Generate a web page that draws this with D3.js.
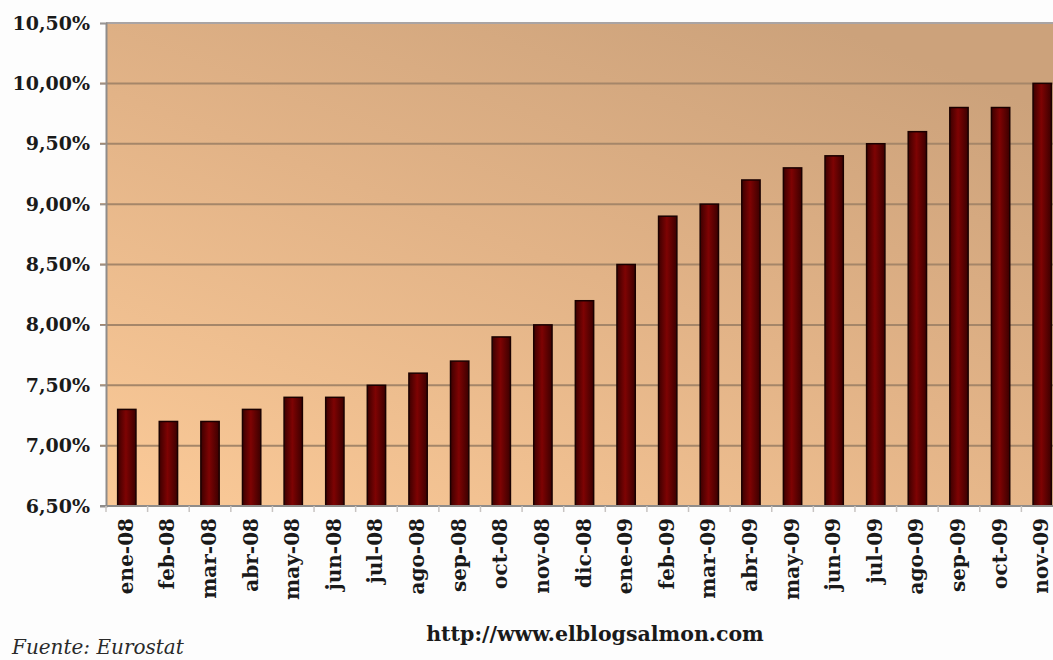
<!DOCTYPE html>
<html>
<head>
<meta charset="utf-8">
<script src="https://cdn.jsdelivr.net/npm/d3@7"></script>
<style>
  body { margin: 0; background: #fdfdfd; }
  svg { display: block; }
</style>
</head>
<body>
<svg id="chart" width="1053" height="660"></svg>
<script>
// desempleo zona euro, ene-08 .. nov-09
const months = ["ene-08","feb-08","mar-08","abr-08","may-08","jun-08","jul-08","ago-08","sep-08","oct-08","nov-08","dic-08",
                "ene-09","feb-09","mar-09","abr-09","may-09","jun-09","jul-09","ago-09","sep-09","oct-09","nov-09"];
const rates = [7.3,7.2,7.2,7.3,7.4,7.4,7.5,7.6,7.7,7.9,8.0,8.2,8.5,8.9,9.0,9.2,9.3,9.4,9.5,9.6,9.8,9.8,10.0];
const yTicks = [6.5,7.0,7.5,8.0,8.5,9.0,9.5,10.0,10.5];

const margin = {top: 23, left: 106, bottom: 506, right: 1063};

let svg = d3.select("#chart");

let x = d3.scaleBand()
    .domain(months)
    .range([margin.left, margin.right])
    .paddingInner(0.56)
    .paddingOuter(0.28);

let y = d3.scaleLinear()
    .domain([6.5, 10.5])
    .range([margin.bottom, margin.top]);

let defs = svg.append("defs");

// background: light peach bottom-left, tan top-right
let bg = defs.append("linearGradient").attr("id", "bgGrad")
    .attr("x1", 0).attr("y1", 1).attr("x2", 0.75).attr("y2", 0);
bg.append("stop").attr("offset", "0%").attr("stop-color", "#fbca98");
bg.append("stop").attr("offset", "55%").attr("stop-color", "#e2b387");
bg.append("stop").attr("offset", "100%").attr("stop-color", "#cca27b");

let barGrad = defs.append("linearGradient").attr("id", "barGrad")
    .attr("x1", 0).attr("y1", 0).attr("x2", 1).attr("y2", 0);
barGrad.append("stop").attr("offset", "0%").attr("stop-color", "#3c0000");
barGrad.append("stop").attr("offset", "45%").attr("stop-color", "#7e0303");
barGrad.append("stop").attr("offset", "100%").attr("stop-color", "#3c0000");

svg.append("rect")
    .attr("x", margin.left).attr("y", margin.top)
    .attr("width", margin.right - margin.left)
    .attr("height", margin.bottom - margin.top)
    .attr("fill", "url(#bgGrad)");

// top border
svg.append("line")
    .attr("x1", margin.left).attr("x2", margin.right)
    .attr("y1", margin.top).attr("y2", margin.top)
    .attr("stroke", "#a9a4a4").attr("stroke-width", 2);

// gridlines
svg.append("g").selectAll("line")
    .data(yTicks.filter(d => d > 6.5 && d < 10.5))
    .join("line")
    .attr("x1", margin.left - 6).attr("x2", margin.right)
    .attr("y1", d => y(d)).attr("y2", d => y(d))
    .attr("stroke", "#a58669").attr("stroke-width", 2);

// y axis
let yAxis = svg.append("g")
    .attr("transform", "translate(" + margin.left + ",0)")
    .call(d3.axisLeft(y).tickValues(yTicks).tickSize(6).tickPadding(10)
        .tickFormat(d => d3.format(".2f")(d).replace(".", ",") + "%"));
yAxis.select(".domain").attr("stroke", "#8f8c8a").attr("stroke-width", 2);
yAxis.selectAll(".tick line").attr("stroke", "#9a9694");
yAxis.selectAll("text")
    .attr("fill", "#1a1a1a")
    .style("font-family", "'DejaVu Serif', serif")
    .style("font-weight", "bold")
    .style("font-size", "19px");

// bars
svg.append("g").selectAll("rect")
    .data(rates)
    .join("rect")
    .attr("x", (d, i) => x(months[i]))
    .attr("width", x.bandwidth())
    .attr("y", d => y(d))
    .attr("height", d => y(6.5) - y(d))
    .attr("fill", "url(#barGrad)")
    .attr("stroke", "#1a0000")
    .attr("stroke-width", 1.5);

// x axis: line + ticks at band boundaries
let step = x.step();
let bounds = d3.range(months.length + 1).map(i => margin.left + i * step);
let xg = svg.append("g");
xg.append("line")
    .attr("x1", margin.left - 6).attr("x2", margin.right)
    .attr("y1", margin.bottom).attr("y2", margin.bottom)
    .attr("stroke", "#8f8c8a").attr("stroke-width", 2);
xg.selectAll(".xtick")
    .data(bounds)
    .join("line")
    .attr("class", "xtick")
    .attr("x1", d => d).attr("x2", d => d)
    .attr("y1", margin.bottom).attr("y2", margin.bottom + 6)
    .attr("stroke", "#c8c4c2").attr("stroke-width", 1.5);

xg.selectAll("text")
    .data(months)
    .join("text")
    .attr("transform", d => "translate(" + (x(d) + x.bandwidth() / 2 + 6) + "," + (margin.bottom + 12) + ") rotate(-90)")
    .attr("text-anchor", "end")
    .attr("fill", "#1a1a1a")
    .style("font-family", "'DejaVu Serif', serif")
    .style("font-weight", "bold")
    .style("font-size", "20px")
    .text(d => d);

// footer
svg.append("text")
    .attr("x", 595).attr("y", 641)
    .attr("text-anchor", "middle")
    .attr("fill", "#1a1a1a")
    .style("font-family", "'DejaVu Serif', serif")
    .style("font-weight", "bold")
    .style("font-size", "20.5px")
    .text("http://www.elblogsalmon.com");

svg.append("text")
    .attr("x", 12).attr("y", 654)
    .attr("fill", "#2a2a2a")
    .style("font-family", "'DejaVu Serif', serif")
    .style("font-style", "italic")
    .style("font-size", "20px")
    .text("Fuente: Eurostat");
</script>
</body>
</html>
